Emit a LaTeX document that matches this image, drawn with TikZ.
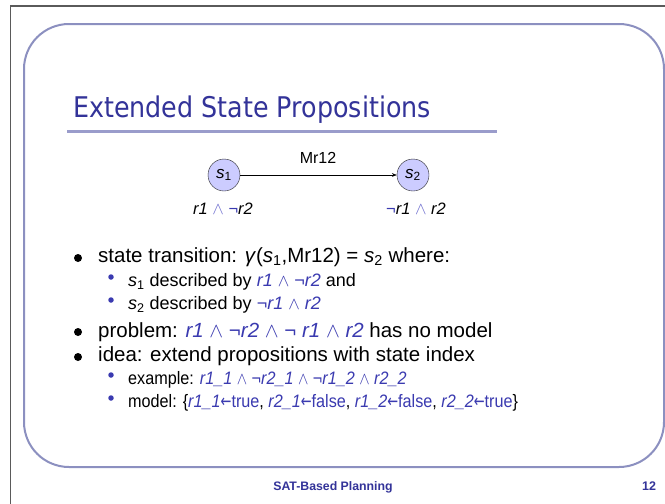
\documentclass[tikz,border=0pt]{standalone}
\usepackage{fontspec}
\setmainfont{Liberation Sans}
\newfontfamily\headfont[FakeStretch=0.89]{DejaVu Sans}
\newfontfamily\symfont{DejaVu Sans}
\usepackage{xcolor}
\usetikzlibrary{arrows.meta,positioning}

\definecolor{slideblue}{HTML}{333399}
\definecolor{propblue}{HTML}{3A3AB0}
\definecolor{opblue}{HTML}{7070D0}
\definecolor{framegray}{HTML}{5A5A5A}
\definecolor{roundline}{HTML}{8C90C0}
\definecolor{ruleline}{HTML}{9A9CCB}
\definecolor{statefill}{HTML}{CCCCFF}

% propositions and connectives
\newcommand{\pr}[1]{\textit{#1}}
\newcommand{\bp}[1]{\textcolor{propblue}{\textit{#1}}}
\newcommand{\wedgeop}{\ensuremath{\wedge}}
\newcommand{\notop}{\char"00AC}
\newcommand{\getsop}{\scalebox{0.8}[1]{\symfont\char"2190}}
\newcommand{\st}[1]{\textit{s}\textsubscript{#1}}
\newcommand{\narrow}[1]{\scalebox{0.9}[1]{#1}}

\begin{document}
\begin{tikzpicture}[x=1pt, y=-1pt,
    state/.style={circle, draw=black!85, fill=statefill, minimum size=32pt,
      inner sep=0pt, font=\fontsize{17}{17}\selectfont},
    item/.style={anchor=base west, inner sep=0pt, font=\fontsize{20.5}{24}\selectfont},
    subitem/.style={anchor=base west, inner sep=0pt, font=\fontsize{18}{21}\selectfont},
    dot/.style={circle, fill=black, inner sep=0pt, minimum size=8pt},
    subdot/.style={circle, fill=propblue, inner sep=0pt, minimum size=5.5pt},
    >=Stealth]
  \fill[white] (0,0) rectangle (665,504);
  \useasboundingbox (0,0) rectangle (665,504);

  % slide frame
  \draw[framegray, line width=1.2pt] (10.7,504) -- (10.7,6) -- (665,6);
  \draw[roundline, line width=2pt, rounded corners=45pt] (24,24) rectangle (664,467);

  % heading
  \node[anchor=base west, inner sep=0pt, text=slideblue,
    font=\headfont\fontsize{28.5}{32}\selectfont] (title) at (73,117.5)
    {Extended State Propositions};
  \draw[ruleline, line width=3pt] (67,131.7) -- (497,131.7);

  % the transition
  \node[state] (s1) at (224,175) {\st{1}};
  \node[state] (s2) at (413,175) {\st{2}};
  \draw[->, thin] (s1) -- (s2);
  \node[anchor=base, font=\fontsize{16}{19}\selectfont] (act) at (318,163) {Mr12};
  \node[anchor=base, inner sep=0pt, font=\fontsize{16.5}{20}\selectfont] (d1) at (223,214)
    {\pr{r1} \textcolor{opblue}{\wedgeop} \textcolor{propblue}{\notop}\pr{r2}};
  \node[anchor=base, inner sep=0pt, font=\fontsize{16.5}{20}\selectfont] (d2) at (416,214)
    {\textcolor{propblue}{\notop}\pr{r1} \textcolor{opblue}{\wedgeop} \pr{r2}};

  % bullet markers
  \foreach \y/\n in {258/b1, 332/b2, 357/b3}
    \node[dot] (\n) at (78,\y) {};
  \foreach \y/\n in {277/c1, 300/c2, 375/c3, 398/c4}
    \node[subdot] (\n) at (111,\y) {};

  % bullet text
  \node[item] (l1) at (98,262.5)
    {state transition: \textit{γ}(\st{1},Mr12) = \st{2} where:};
  \node[subitem] (l2) at (128,286.5)
    {\st{1} described by \bp{r1} \textcolor{propblue}{\wedgeop\ \notop}\bp{r2} and};
  \node[subitem] (l3) at (128,309.5)
    {\st{2} described by \textcolor{propblue}{\notop}\bp{r1} \textcolor{propblue}{\wedgeop} \bp{r2}};
  \node[item] (l4) at (98,337)
    {problem: \bp{r1} \textcolor{propblue}{\wedgeop\ \notop}\bp{r2}
     \textcolor{propblue}{\wedgeop\ \notop} \bp{r1} \textcolor{propblue}{\wedgeop} \bp{r2} has no model};
  \node[item] (l5) at (98,361.5)
    {idea: extend propositions with state index};
  \node[subitem] (l6) at (128,384)
    {\narrow{example: \bp{r1\_1} \textcolor{propblue}{\wedgeop\ \notop}\bp{r2\_1}
     \textcolor{propblue}{\wedgeop\ \notop}\bp{r1\_2} \textcolor{propblue}{\wedgeop} \bp{r2\_2}}};
  \node[subitem] (l7) at (128,407)
    {\narrow{model: \{\bp{r1\_1}\textcolor{propblue}{\getsop true}, \bp{r2\_1}\textcolor{propblue}{\getsop false},
     \bp{r1\_2}\textcolor{propblue}{\getsop false}, \bp{r2\_2}\textcolor{propblue}{\getsop true}\}}};

  % footer
  \node[anchor=base, inner sep=0pt, text=slideblue, font=\bfseries\fontsize{12.3}{14}\selectfont]
    (foot) at (333,490) {SAT-Based Planning};
  \node[anchor=base, inner sep=0pt, text=slideblue, font=\bfseries\fontsize{12.5}{14}\selectfont]
    (num) at (649,490) {12};
\end{tikzpicture}
\end{document}
